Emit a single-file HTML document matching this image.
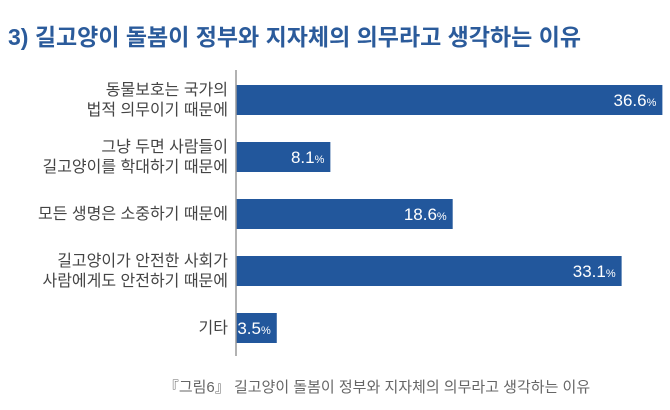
<!DOCTYPE html>
<html><head><meta charset="utf-8"><style>
body{margin:0;background:#fff;width:670px;height:405px;overflow:hidden;font-family:"Liberation Sans","Noto Sans CJK KR",sans-serif}
</style></head><body>
<svg width="670" height="405" xmlns="http://www.w3.org/2000/svg">
<text x="8" y="45" font-size="23" font-weight="bold" fill="#2b5b9b" font-family="Liberation Sans, Noto Sans CJK KR, sans-serif">3) 길고양이 돌봄이 정부와 지자체의 의무라고 생각하는 이유</text>
<g id="bars"></g>
<line x1="236" y1="70" x2="236" y2="356" stroke="#999" stroke-width="1.5"/>
<text x="377" y="392" font-size="15" fill="#666" text-anchor="middle" font-family="Liberation Sans, Noto Sans CJK KR, sans-serif">『그림6』 길고양이 돌봄이 정부와 지자체의 의무라고 생각하는 이유</text>
</svg>
<script>
const categories=[["동물보호는 국가의","법적 의무이기 때문에"],["그냥 두면 사람들이","길고양이를 학대하기 때문에"],["모든 생명은 소중하기 때문에"],["길고양이가 안전한 사회가","사람에게도 안전하기 때문에"],["기타"]];
const values=[36.6,8.1,18.6,33.1,3.5];
const x0=236,scale=11.65,top0=85,step=57,bh=30;
const xs=v=>x0+v*scale, ys=i=>top0+i*step;
const g=document.getElementById('bars');
const NS='http://www.w3.org/2000/svg';
values.forEach((v,i)=>{
  const r=document.createElementNS(NS,'rect');
  r.setAttribute('x',x0);r.setAttribute('y',ys(i));
  r.setAttribute('width',xs(v)-x0);r.setAttribute('height',bh);r.setAttribute('fill','#22579c');
  
  
  g.appendChild(r);
  const t=document.createElementNS(NS,'text');
  t.setAttribute('x',xs(v)-6);t.setAttribute('y',ys(i)+bh/2+6);
  t.setAttribute('text-anchor','end');t.setAttribute('fill','#fff');t.setAttribute('font-size','17');
  t.innerHTML=v.toFixed(1)+'<tspan font-size="11">%</tspan>';
  
  
  g.appendChild(t);
  const lines=categories[i];
  lines.forEach((s,j)=>{
    const l=document.createElementNS(NS,'text');
    const cy=ys(i)+bh/2+5+(j-(lines.length-1)/2)*20;
    l.setAttribute('x',228);l.setAttribute('y',cy);l.setAttribute('text-anchor','end');
    l.setAttribute('font-size','16');l.setAttribute('fill','#444');
    l.textContent=s;
    
    
    g.appendChild(l);
  });
});
</script>
</body></html>
